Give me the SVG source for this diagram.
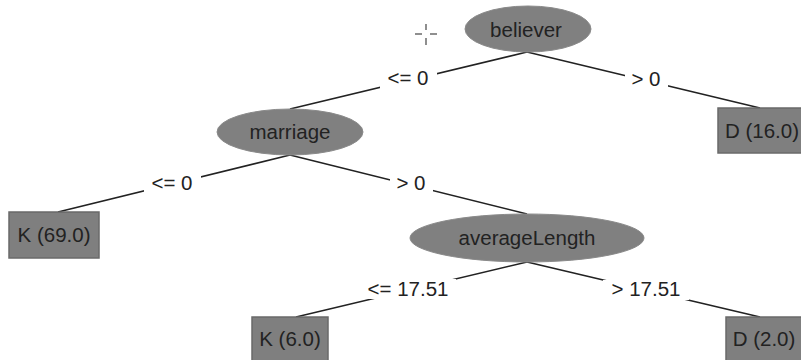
<svg xmlns="http://www.w3.org/2000/svg" width="801" height="360" viewBox="0 0 801 360">
<style>
.nd{fill:#808080;stroke:#8a8a8a;stroke-width:1}
.lf{fill:#7f7f7f;stroke:#6a6a6a;stroke-width:1.5}
.t{font-family:"Liberation Sans",Arial,sans-serif;font-size:20.5px;fill:#222;text-anchor:middle}
.e{stroke:#222;stroke-width:1.6;fill:none}
.lb{fill:#fff}
.x{stroke:#444;stroke-width:1.2}
</style>
<rect width="801" height="360" fill="#fff"/>
<g id="connectors">
<line class="e" x1="527" y1="52" x2="290" y2="109"/>
<line class="e" x1="527" y1="52" x2="760" y2="108"/>
<line class="e" x1="290" y1="155" x2="58" y2="212"/>
<line class="e" x1="290" y1="155" x2="527" y2="214"/>
<line class="e" x1="527" y1="262" x2="296" y2="317"/>
<line class="e" x1="527" y1="262" x2="760" y2="317"/>
<rect class="lb" x="380" y="69" width="57" height="20"/>
<rect class="lb" x="625" y="69" width="43" height="20"/>
<rect class="lb" x="144" y="173" width="57" height="20"/>
<rect class="lb" x="390" y="174" width="43" height="20"/>
<rect class="lb" x="360" y="279" width="96" height="20"/>
<rect class="lb" x="603" y="280" width="86" height="20"/>
<text class="t" x="408" y="85">&lt;= 0</text>
<text class="t" x="646" y="86">&gt; 0</text>
<text class="t" x="172" y="190">&lt;= 0</text>
<text class="t" x="411" y="190">&gt; 0</text>
<text class="t" x="408" y="296">&lt;= 17.51</text>
<text class="t" x="646" y="296">&gt; 17.51</text>
</g>
<g id="believer"><ellipse class="nd" cx="528" cy="29" rx="63" ry="23"/><text class="t" x="526" y="37">believer</text></g>
<g id="marriage"><ellipse class="nd" cx="290" cy="132" rx="73" ry="23"/><text class="t" x="290" y="139">marriage</text></g>
<g id="averageLength"><ellipse class="nd" cx="527" cy="238" rx="117" ry="24"/><text class="t" x="527" y="245">averageLength</text></g>
<g id="leafK69"><rect class="lf" x="9" y="212" width="90" height="46"/><text class="t" x="54" y="242">K (69.0)</text></g>
<g id="leafD16"><rect class="lf" x="718" y="108" width="90" height="45"/><text class="t" x="762" y="138">D (16.0)</text></g>
<g id="leafK6"><rect class="lf" x="252" y="317" width="76" height="46"/><text class="t" x="290" y="346">K (6.0)</text></g>
<g id="leafD2"><rect class="lf" x="726" y="317" width="80" height="46"/><text class="t" x="764" y="346">D (2.0)</text></g>
<g id="cursor"><line class="x" x1="415" y1="34" x2="422" y2="34"/><line class="x" x1="430" y1="34" x2="437" y2="34"/><line class="x" x1="426" y1="24" x2="426" y2="30"/><line class="x" x1="426" y1="38" x2="426" y2="45"/></g>
</svg>
